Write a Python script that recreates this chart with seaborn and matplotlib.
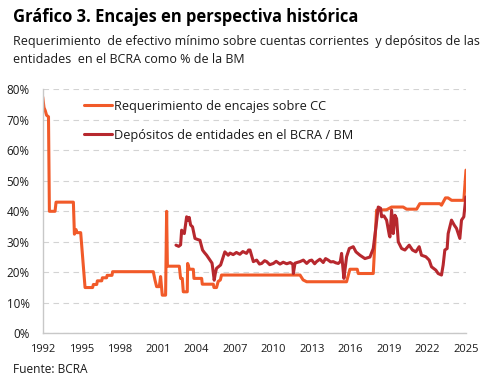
import numpy as np
import pandas as pd
import matplotlib
matplotlib.use("Agg")
import matplotlib.pyplot as plt
import seaborn as sns
from matplotlib.ticker import PercentFormatter

# Requerimiento de encajes sobre CC (%)
cc_year = [1992.0, 1992.1, 1992.2, 1992.3, 1992.45, 1992.52, 1992.96, 1993.04, 1994.39, 1994.47,
           1994.6, 1994.65, 1994.96, 1995.3, 1995.89, 1995.95, 1996.21, 1996.26, 1996.6, 1996.65,
           1996.98, 1997.02, 1997.4, 1997.45, 2000.62, 2000.75, 2000.88, 2001.09, 2001.19, 2001.32,
           2001.58, 2001.66, 2001.72, 2002.65, 2002.75, 2002.88, 2002.96, 2003.27, 2003.3, 2003.43,
           2003.74, 2003.79, 2004.39, 2004.44, 2005.3, 2005.35, 2005.55, 2005.68, 2005.85, 2005.94,
           2012.06, 2012.3, 2012.58, 2015.69, 2015.95, 2016.52, 2016.6, 2017.77, 2018.03, 2018.81,
           2019.2, 2020.1, 2020.37, 2021.15, 2021.4, 2022.96, 2023.09, 2023.4, 2023.6, 2023.88,
           2024.83, 2025.0]
cc_val = [77.5, 74, 73, 71.5, 71, 40, 40, 43, 43, 32.5,
          34, 33, 33, 15, 15, 16, 16, 17.2, 17.2, 18.2,
          18.2, 19, 19, 20.2, 20.2, 17.5, 15.3, 15.3, 18.6, 12.5,
          12.5, 40, 22, 22, 18, 18, 13.6, 13.6, 22.9, 21,
          21, 18, 18, 16.1, 16.1, 15, 15, 17, 17.5, 19.1,
          19.1, 17.5, 16.9, 16.9, 21, 21, 19.6, 19.6, 40.4, 40.5,
          41.4, 41.4, 40.7, 40.7, 42.5, 42.5, 42, 44.4, 44.4, 43.6,
          43.6, 53.5]

# Depositos de entidades en el BCRA / BM (%)
dep_year = [2002.39, 2002.6, 2002.75, 2002.83, 2002.96, 2003.04, 2003.22, 2003.35, 2003.42, 2003.53,
            2003.68, 2003.87, 2004.05, 2004.26, 2004.46, 2004.6, 2004.78, 2005.04, 2005.2, 2005.24,
            2005.37, 2005.45, 2005.55, 2005.87, 2006.2, 2006.46, 2006.6, 2006.85, 2007.1, 2007.37,
            2007.6, 2007.89, 2008.05, 2008.16, 2008.42, 2008.68, 2008.9, 2009.07, 2009.3, 2009.46,
            2009.7, 2009.98, 2010.2, 2010.5, 2010.75, 2011.02, 2011.3, 2011.5, 2011.54, 2011.67,
            2011.9, 2012.06, 2012.32, 2012.58, 2012.8, 2012.97, 2013.2, 2013.35, 2013.61, 2013.87,
            2014.05, 2014.26, 2014.45, 2014.65, 2014.85, 2015.04, 2015.2, 2015.3, 2015.48, 2015.6,
            2015.69, 2015.9, 2016.21, 2016.42, 2016.73, 2017.12, 2017.51, 2017.77, 2017.98, 2018.16,
            2018.34, 2018.42, 2018.6, 2018.81, 2019.02, 2019.07, 2019.2, 2019.33, 2019.46, 2019.59,
            2019.72, 2019.98, 2020.24, 2020.57, 2020.83, 2021.09, 2021.35, 2021.53, 2021.87, 2022.13,
            2022.31, 2022.65, 2022.83, 2023.09, 2023.22, 2023.35, 2023.53, 2023.61, 2023.87, 2024.08,
            2024.26, 2024.52, 2024.65, 2024.83, 2024.99]
dep_val = [28.9, 28.5, 29, 33.8, 33, 32.7, 38.2, 37, 38, 35.5,
           34.9, 31.1, 30.8, 30.5, 27.3, 26.5, 25.6, 24, 23, 21.8,
           17.4, 19.5, 21.3, 22.4, 26.7, 25.6, 26.3, 25.8, 26.5, 25.9,
           26.8, 26.2, 27.3, 27.3, 23.5, 24, 22.7, 22.9, 23.8, 23.5,
           22.5, 22.9, 23.6, 22.7, 23.3, 22.8, 23.2, 22.6, 19.6, 23,
           23.3, 23.5, 24, 22.9, 23.8, 24, 22.8, 23.5, 24.3, 23.2,
           24.5, 24, 23.4, 23.5, 23.1, 22.9, 23.5, 26.2, 18, 22,
           25.1, 27.8, 28.4, 26.7, 25.6, 24.5, 25, 27.8, 34.9, 41.4,
           41, 38.2, 38.5, 37.1, 32.2, 31.6, 40.4, 32.7, 38.7, 37.6,
           30, 27.8, 27.3, 28.9, 27.3, 26.7, 28.4, 25.6, 25.1, 24,
           21.8, 20.7, 19.6, 19.1, 22.4, 27.3, 27.8, 32.7, 37.1, 35.5,
           34.4, 31.1, 37.1, 38.2, 44.7]

x_ticks = list(range(1992, 2026, 3))

orange = "#F15A29"
red = "#B7282E"
text_col = "#1a1a1a"

sns.set_style("white")
plt.rcParams["font.family"] = ["Open Sans", "DejaVu Sans"]

fig = plt.figure(figsize=(4.95, 3.83), dpi=100)
ax = fig.add_axes([0.0863, 0.1298, 0.8551, 0.637])

sns.lineplot(x=cc_year, y=cc_val, ax=ax, color=orange, linewidth=2.2,
             estimator=None, label="Requerimiento de encajes sobre CC")
sns.lineplot(x=dep_year, y=dep_val, ax=ax, color=red, linewidth=2.2,
             estimator=None, label="Depósitos de entidades en el BCRA / BM")

ax.set_xlim(1992, 2025)
ax.set_ylim(0, 80)
ax.set_xticks(x_ticks)
ax.set_yticks(range(0, 81, 10))
ax.yaxis.set_major_formatter(PercentFormatter(decimals=0))
ax.grid(axis="y", color="#d3d3d3", linestyle=(0, (5, 4)), linewidth=0.8)
ax.grid(axis="x", visible=False)
ax.set_axisbelow(True)
for s in ["top", "right"]:
    ax.spines[s].set_visible(False)
for s in ["left", "bottom"]:
    ax.spines[s].set_color("#c8c8c8")
    ax.spines[s].set_linewidth(1)
ax.tick_params(axis="x", length=3, color="#c8c8c8", pad=5, labelsize=8, labelcolor=text_col)
ax.tick_params(axis="y", length=0, pad=9.5, labelsize=8.4, labelcolor=text_col)
ax.set_xlabel("")
ax.set_ylabel("")

ax.legend(loc="upper left", bbox_to_anchor=(0.083, 0.984), frameon=False,
          fontsize=9.2, handlelength=2.2, handletextpad=0.1, labelspacing=1.25,
          borderpad=0, labelcolor=text_col)

fig.text(0.026, 0.956, "Gráfico 3. Encajes en perspectiva histórica", fontsize=11.9,
         fontweight="bold", color="black", va="center", ha="left")
fig.text(0.026, 0.891, "Requerimiento  de efectivo mínimo sobre cuentas corrientes  y depósitos de las",
         fontsize=9.0, color=text_col, va="center", ha="left")
fig.text(0.026, 0.844, "entidades  en el BCRA como % de la BM",
         fontsize=9.0, color=text_col, va="center", ha="left")
fig.text(0.026, 0.036, "Fuente: BCRA", fontsize=8.6, color=text_col, va="center", ha="left")

fig.savefig("out.png", dpi=100)
